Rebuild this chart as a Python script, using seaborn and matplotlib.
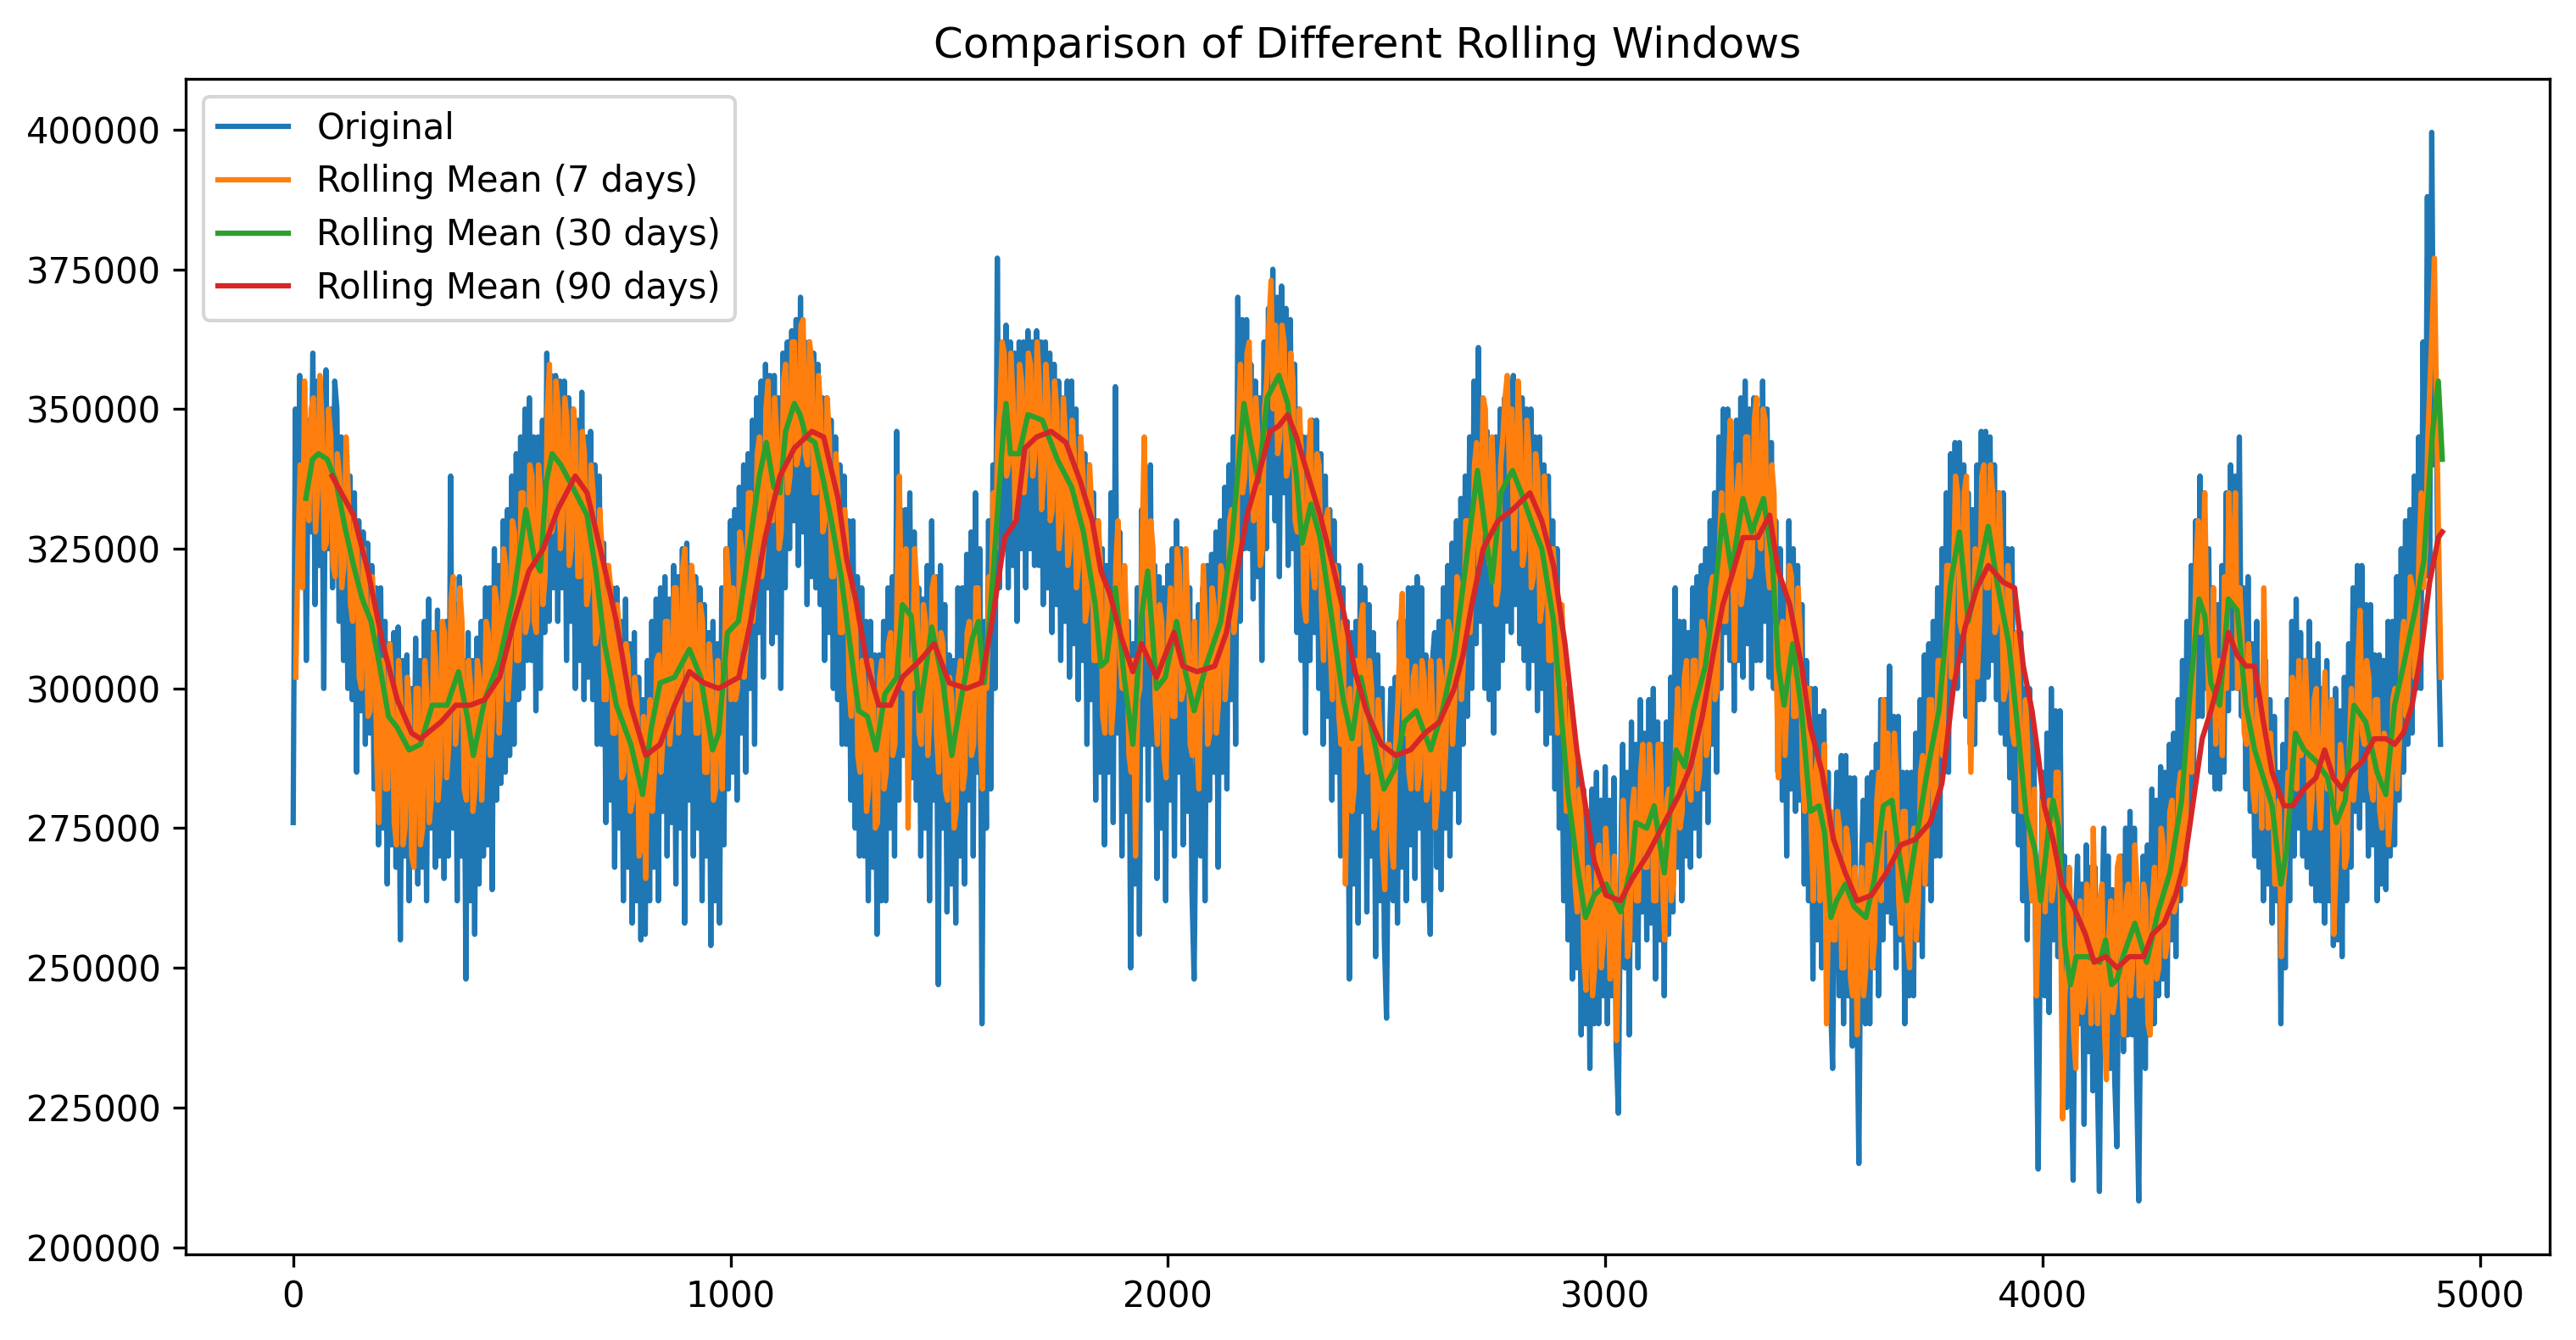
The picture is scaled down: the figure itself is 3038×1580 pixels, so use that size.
import matplotlib

matplotlib.use('Agg')
import matplotlib.pyplot as plt
import numpy as np
import seaborn as sns

# values in thousands
# original series, one reading every 5 days starting at day 0 (one row = 100 days)
original_k = [
    276, 350, 318, 356, 322, 352, 305, 348, 328, 360, 315, 355, 322, 350, 300, 357, 325, 350, 318, 355,
    350, 312, 345, 305, 340, 300, 338, 298, 335, 285, 330, 296, 328, 290, 326, 292, 322, 282, 318, 272,
    318, 275, 312, 265, 308, 272, 310, 268, 311, 255, 305, 270, 306, 262, 300, 270, 309, 265, 305, 268,
    312, 262, 316, 275, 310, 268, 314, 270, 308, 266, 312, 270, 338, 275, 315, 262, 320, 270, 305, 248,
    310, 262, 305, 256, 309, 265, 312, 270, 318, 272, 318, 264, 325, 280, 322, 283, 330, 285, 332, 288,
    338, 290, 342, 298, 345, 300, 350, 305, 352, 305, 345, 296, 345, 300, 348, 310, 360, 312, 356, 318,
    356, 312, 355, 318, 355, 305, 352, 312, 350, 300, 348, 305, 353, 298, 345, 302, 346, 298, 340, 290,
    338, 290, 326, 276, 322, 280, 318, 268, 318, 275, 312, 262, 316, 268, 308, 258, 310, 262, 302, 255,
    298, 256, 305, 262, 312, 268, 316, 262, 318, 278, 320, 270, 316, 276, 322, 265, 320, 275, 325, 258,
    326, 280, 322, 270, 320, 275, 318, 262, 315, 270, 310, 254, 312, 262, 308, 258, 318, 272, 325, 282,
    330, 285, 332, 280, 336, 292, 340, 285, 342, 300, 348, 290, 352, 310, 355, 302, 358, 318, 356, 308,
    356, 310, 352, 300, 360, 318, 362, 325, 364, 330, 366, 322, 370, 328, 362, 315, 362, 320, 360, 318,
    358, 315, 352, 305, 352, 310, 348, 300, 345, 298, 340, 290, 338, 290, 330, 280, 330, 275, 320, 270,
    318, 270, 312, 262, 312, 268, 306, 256, 306, 262, 312, 262, 318, 275, 320, 270, 346, 280, 332, 288,
    332, 290, 335, 284, 328, 280, 318, 270, 316, 275, 322, 262, 330, 280, 320, 247, 322, 275, 315, 260,
    306, 265, 305, 258, 318, 270, 318, 265, 324, 280, 328, 270, 335, 285, 325, 240, 312, 275, 330, 282,
    340, 300, 377, 318, 360, 325, 365, 318, 362, 322, 360, 312, 362, 325, 362, 318, 364, 325, 362, 322,
    364, 322, 362, 315, 362, 318, 360, 310, 358, 315, 355, 305, 352, 312, 355, 302, 355, 308, 350, 298,
    345, 305, 342, 290, 340, 298, 335, 280, 330, 285, 325, 272, 322, 285, 335, 276, 354, 292, 328, 270,
    318, 278, 312, 250, 308, 265, 318, 256, 332, 290, 338, 280, 340, 290, 322, 266, 320, 275, 318, 262,
    322, 280, 325, 270, 330, 285, 325, 272, 320, 278, 318, 264, 248, 285, 315, 270, 318, 262, 322, 280,
    324, 285, 328, 268, 330, 285, 336, 282, 340, 298, 345, 290, 370, 312, 366, 325, 366, 325, 358, 316,
    355, 320, 352, 305, 362, 325, 368, 335, 375, 330, 370, 320, 372, 335, 368, 322, 366, 325, 358, 310,
    350, 305, 345, 292, 345, 305, 348, 310, 348, 300, 342, 290, 338, 295, 332, 280, 330, 285, 322, 270,
    318, 272, 312, 248, 310, 265, 312, 258, 322, 278, 318, 260, 315, 270, 310, 252, 306, 262, 300, 255,
    241, 285, 300, 262, 302, 258, 312, 268, 312, 262, 318, 272, 318, 266, 320, 275, 318, 262, 306, 268,
    256, 305, 310, 268, 312, 264, 318, 275, 322, 270, 326, 282, 330, 276, 334, 290, 338, 295, 345, 300,
    355, 308, 361, 312, 350, 300, 346, 298, 340, 292, 345, 300, 350, 305, 352, 312, 355, 310, 356, 315,
    352, 308, 352, 305, 350, 300, 350, 305, 345, 296, 345, 300, 340, 290, 338, 292, 330, 282, 325, 275,
    305, 262, 300, 255, 292, 248, 288, 250, 285, 238, 282, 240, 278, 232, 282, 240, 285, 240, 280, 245,
    286, 240, 280, 245, 284, 236, 224, 265, 290, 250, 285, 238, 294, 255, 290, 250, 298, 260, 292, 255,
    298, 258, 300, 248, 294, 255, 290, 245, 294, 256, 302, 260, 318, 268, 312, 262, 312, 270, 310, 268,
    318, 275, 320, 270, 322, 282, 325, 276, 330, 290, 335, 285, 345, 300, 350, 310, 350, 305, 342, 296,
    348, 305, 352, 302, 355, 308, 350, 300, 352, 305, 350, 305, 355, 312, 350, 302, 344, 300, 330, 285,
    325, 280, 318, 270, 330, 282, 325, 278, 322, 280, 315, 265, 305, 262, 300, 248, 300, 255, 295, 250,
    296, 255, 285, 245, 232, 270, 285, 245, 288, 240, 288, 245, 284, 236, 284, 248, 215, 265, 280, 240,
    284, 240, 285, 250, 290, 245, 298, 255, 298, 260, 304, 258, 295, 250, 295, 255, 285, 240, 285, 245,
    285, 245, 292, 255, 298, 252, 306, 265, 308, 262, 312, 270, 318, 270, 325, 285, 335, 285, 342, 300,
    344, 300, 344, 305, 340, 295, 335, 290, 332, 290, 340, 298, 346, 298, 346, 302, 345, 305, 340, 298,
    335, 292, 335, 290, 325, 284, 325, 278, 310, 272, 310, 262, 300, 255, 300, 262, 292, 246, 214, 258,
    285, 245, 292, 242, 300, 255, 296, 252, 296, 255, 270, 225, 265, 235, 212, 258, 270, 240, 265, 222,
    272, 235, 268, 228, 268, 232, 210, 255, 275, 238, 270, 232, 264, 230, 218, 262, 270, 235, 275, 238,
    278, 238, 275, 230, 208.3, 250, 270, 232, 272, 238, 282, 240, 280, 245, 286, 248, 285, 245, 290, 255,
    292, 252, 298, 262, 305, 265, 312, 275, 322, 282, 330, 295, 338, 295, 335, 300, 325, 285, 318, 282,
    315, 282, 322, 285, 335, 296, 340, 300, 338, 300, 345, 295, 318, 282, 320, 278, 308, 270, 312, 268,
    298, 262, 305, 265, 298, 258, 295, 262, 285, 240, 290, 250, 298, 262, 312, 270, 316, 275, 310, 270,
    305, 268, 312, 265, 305, 262, 308, 262, 300, 258, 305, 262, 295, 254, 300, 255, 296, 252, 302, 262,
    308, 268, 318, 278, 322, 275, 322, 280, 315, 270, 315, 272, 306, 262, 306, 265, 305, 264, 312, 270,
    312, 272, 320, 280, 325, 285, 330, 290, 332, 292, 338, 300, 345, 300, 362, 320, 388, 320, 399.5, 340,
    355, 310, 290,
]

# 7-day rolling mean, one reading every 5 days starting at day 6
rolling7_k = [
    302, 325, 340, 318, 355, 335, 330, 350, 352, 328, 335, 356, 348, 325, 326, 350, 345, 322, 320, 342,
    338, 318, 322, 345, 335, 315, 312, 330, 325, 302, 300, 325, 318, 295, 296, 320, 312, 288, 276, 305,
    305, 282, 282, 308, 300, 276, 272, 305, 298, 272, 275, 302, 296, 270, 268, 300, 300, 272, 275, 305,
    298, 276, 280, 310, 305, 280, 285, 312, 310, 284, 290, 316, 320, 290, 296, 318, 312, 282, 280, 305,
    300, 278, 282, 305, 302, 280, 290, 312, 310, 288, 295, 318, 315, 292, 300, 325, 322, 298, 305, 330,
    328, 305, 305, 335, 335, 310, 312, 340, 338, 312, 310, 340, 335, 315, 320, 350, 358, 328, 330, 355,
    350, 325, 330, 352, 348, 322, 325, 350, 345, 320, 320, 346, 342, 315, 318, 340, 335, 308, 310, 332,
    325, 298, 298, 322, 318, 292, 292, 315, 310, 284, 285, 308, 305, 278, 280, 302, 298, 270, 272, 295,
    266, 290, 298, 278, 285, 305, 306, 285, 292, 312, 312, 290, 296, 318, 318, 292, 300, 322, 325, 298,
    298, 322, 318, 292, 292, 315, 312, 285, 285, 308, 302, 280, 282, 305, 298, 282, 305, 325, 318, 298,
    318, 298, 300, 328, 325, 302, 308, 335, 335, 312, 318, 342, 345, 320, 325, 350, 355, 332, 330, 352,
    345, 325, 328, 355, 358, 335, 338, 362, 362, 340, 342, 365, 366, 342, 340, 362, 358, 335, 335, 356,
    350, 328, 330, 352, 345, 320, 320, 342, 335, 310, 310, 332, 325, 300, 295, 318, 312, 288, 285, 305,
    300, 278, 282, 305, 298, 275, 276, 302, 305, 282, 285, 308, 310, 288, 290, 318, 338, 312, 300, 325,
    275, 305, 300, 325, 318, 292, 290, 315, 312, 288, 295, 318, 320, 292, 285, 310, 308, 282, 280, 302,
    298, 275, 278, 302, 305, 282, 285, 310, 312, 288, 290, 318, 318, 292, 282, 305, 300, 320, 315, 335,
    325, 345, 350, 362, 360, 338, 340, 360, 352, 330, 335, 358, 355, 335, 340, 360, 358, 338, 342, 362,
    355, 332, 338, 358, 352, 330, 332, 355, 350, 325, 330, 352, 345, 322, 325, 348, 342, 318, 322, 345,
    338, 312, 315, 340, 332, 305, 305, 330, 322, 295, 292, 318, 312, 292, 298, 322, 330, 305, 300, 322,
    310, 288, 285, 305, 270, 298, 300, 325, 345, 320, 305, 330, 325, 298, 290, 315, 312, 288, 284, 310,
    318, 295, 295, 325, 322, 298, 300, 325, 312, 290, 288, 312, 291, 282, 305, 322, 312, 290, 292, 318,
    315, 292, 298, 322, 320, 298, 305, 330, 332, 310, 315, 345, 358, 335, 338, 360, 362, 338, 330, 352,
    345, 322, 325, 350, 355, 365, 373, 350, 365, 342, 345, 365, 362, 338, 340, 360, 355, 330, 328, 350,
    340, 315, 312, 340, 348, 322, 318, 342, 340, 315, 305, 330, 332, 308, 298, 322, 320, 295, 290, 312,
    265, 290, 300, 278, 282, 305, 290, 312, 315, 290, 285, 305, 300, 275, 278, 298, 292, 270, 264, 290,
    290, 272, 268, 290, 298, 310, 317, 292, 305, 285, 282, 302, 304, 282, 285, 305, 302, 280, 282, 305,
    295, 275, 280, 305, 302, 282, 290, 312, 310, 290, 298, 320, 318, 298, 305, 330, 330, 310, 318, 340,
    344, 322, 330, 352, 350, 325, 322, 345, 335, 315, 318, 340, 345, 352, 356, 338, 350, 325, 335, 355,
    345, 322, 325, 348, 342, 318, 320, 342, 338, 312, 315, 338, 330, 305, 305, 325, 318, 292, 295, 315,
    300, 278, 280, 298, 290, 265, 260, 282, 275, 252, 246, 268, 262, 245, 250, 270, 272, 250, 255, 275,
    268, 248, 250, 270, 237, 255, 262, 280, 270, 252, 255, 278, 282, 262, 262, 285, 290, 268, 268, 290,
    285, 262, 262, 290, 290, 265, 255, 280, 282, 262, 265, 290, 300, 275, 278, 302, 305, 282, 280, 305,
    305, 282, 285, 312, 310, 288, 290, 318, 320, 298, 300, 325, 335, 312, 312, 338, 348, 325, 305, 335,
    340, 315, 318, 345, 345, 320, 322, 348, 352, 328, 325, 350, 348, 322, 318, 340, 335, 305, 284, 310,
    312, 288, 298, 322, 320, 295, 295, 318, 310, 285, 278, 300, 300, 275, 262, 285, 288, 262, 265, 290,
    240, 262, 278, 255, 255, 278, 275, 250, 250, 275, 272, 248, 245, 268, 238, 258, 268, 245, 250, 272,
    272, 250, 255, 280, 285, 262, 298, 275, 292, 268, 272, 292, 285, 262, 256, 278, 278, 255, 250, 272,
    275, 255, 262, 285, 288, 265, 275, 298, 298, 278, 282, 305, 305, 288, 300, 322, 322, 302, 318, 338,
    335, 312, 310, 335, 338, 312, 285, 305, 325, 302, 312, 338, 340, 318, 318, 340, 335, 310, 312, 335,
    320, 298, 300, 322, 315, 292, 290, 310, 300, 278, 278, 298, 290, 268, 262, 282, 245, 262, 262, 280,
    260, 275, 280, 262, 265, 285, 285, 262, 223, 245, 250, 268, 255, 238, 232, 255, 262, 242, 245, 265,
    258, 240, 275, 255, 240, 262, 265, 240, 230, 255, 262, 242, 245, 268, 270, 248, 238, 262, 265, 245,
    250, 272, 265, 245, 245, 265, 262, 240, 238, 262, 268, 248, 250, 275, 272, 252, 255, 278, 280, 260,
    262, 282, 285, 265, 265, 292, 295, 285, 305, 322, 330, 310, 318, 335, 310, 295, 300, 318, 290, 305,
    305, 288, 320, 300, 335, 318, 315, 335, 300, 318, 310, 292, 290, 308, 300, 282, 278, 298, 295, 275,
    318, 295, 275, 292, 285, 265, 265, 280, 252, 265, 270, 285, 285, 302, 300, 282, 305, 288, 290, 305,
    295, 275, 280, 298, 300, 282, 275, 292, 303, 282, 282, 298, 256, 268, 275, 290, 285, 268, 270, 288,
    300, 280, 285, 305, 314, 292, 290, 305, 302, 282, 280, 298, 298, 278, 275, 292, 290, 272, 280, 298,
    300, 282, 290, 308, 312, 295, 300, 320, 318, 302, 308, 325, 335, 318, 325, 345, 355, 365, 377, 350,
    325, 302,
]

# 30-day rolling mean
rolling30_day = [
    29, 44, 58, 78, 98, 118, 138, 158, 178, 198,
    218, 238, 265, 291, 318, 352, 378, 398, 412, 438,
    472, 505, 532, 552, 565, 579, 592, 612, 639, 672,
    692, 712, 739, 772, 799, 819, 839, 872, 906, 932,
    959, 973, 993, 1018, 1046, 1066, 1082, 1099, 1113, 1126,
    1146, 1159, 1173, 1193, 1213, 1233, 1253, 1273, 1293, 1313,
    1333, 1353, 1380, 1393, 1413, 1433, 1460, 1486, 1506, 1527,
    1553, 1567, 1580, 1600, 1620, 1630, 1640, 1660, 1680, 1713,
    1747, 1780, 1807, 1834, 1847, 1860, 1880, 1900, 1920, 1940,
    1954, 1974, 1994, 2020, 2040, 2060, 2087, 2121, 2147, 2174,
    2187, 2207, 2227, 2254, 2274, 2294, 2307, 2327, 2348, 2374,
    2401, 2421, 2441, 2468, 2494, 2521, 2541, 2568, 2601, 2628,
    2655, 2681, 2708, 2728, 2741, 2761, 2788, 2808, 2835, 2855,
    2882, 2902, 2915, 2935, 2955, 2975, 3002, 3035, 3062, 3070,
    3095, 3112, 3135, 3162, 3182, 3202, 3229, 3249, 3269, 3289,
    3315, 3335, 3362, 3382, 3396, 3409, 3429, 3449, 3469, 3489,
    3502, 3516, 3529, 3549, 3569, 3596, 3616, 3636, 3656, 3669,
    3689, 3709, 3736, 3763, 3790, 3810, 3830, 3850, 3876, 3896,
    3923, 3943, 3963, 3983, 3996, 4014, 4024, 4037, 4051, 4064,
    4077, 4104, 4131, 4144, 4158, 4171, 4184, 4211, 4238, 4264,
    4291, 4318, 4338, 4358, 4371, 4385, 4405, 4425, 4445, 4465,
    4485, 4505, 4525, 4545, 4558, 4578, 4598, 4625, 4652, 4672,
    4692, 4712, 4739, 4765, 4785, 4805, 4825, 4852, 4872, 4892,
    4905, 4914,
]
rolling30_k = [
    334, 341, 342, 341, 337, 329, 322, 316, 312, 304,
    295, 293, 289, 290, 297, 297, 303, 295, 288, 298,
    305, 317, 332, 323, 321, 337, 342, 340, 336, 331,
    321, 308, 297, 290, 281, 293, 301, 302, 307, 302,
    289, 292, 310, 312, 327, 338, 344, 336, 335, 346,
    351, 349, 345, 344, 337, 329, 320, 308, 296, 295,
    289, 299, 302, 315, 313, 296, 311, 301, 288, 298,
    309, 312, 301, 320, 342, 351, 342, 342, 349, 348,
    341, 336, 328, 315, 304, 305, 318, 302, 290, 313,
    321, 300, 302, 312, 303, 296, 304, 312, 327, 351,
    345, 337, 352, 356, 351, 338, 326, 333, 327, 313,
    298, 291, 302, 292, 282, 286, 294, 296, 289, 296,
    306, 322, 339, 327, 319, 335, 339, 335, 329, 325,
    312, 293, 281, 269, 259, 263, 265, 260, 269, 276,
    275, 279, 267, 289, 286, 296, 304, 316, 331, 321,
    334, 328, 334, 323, 304, 297, 308, 296, 278, 279,
    274, 259, 262, 265, 261, 259, 266, 279, 280, 272,
    262, 272, 285, 296, 319, 328, 312, 319, 329, 319,
    308, 293, 277, 271, 262, 275, 280, 275, 254, 247,
    252, 252, 251, 255, 247, 248, 252, 258, 251, 260,
    267, 280, 300, 316, 313, 301, 297, 316, 314, 297,
    289, 284, 279, 265, 271, 292, 289, 287, 284, 276,
    280, 297, 294, 285, 281, 297, 304, 314, 323, 346,
    355, 341,
]

# 90-day rolling mean
rolling90_day = [
    89, 138, 171, 205, 238, 271, 291, 338, 372, 405,
    438, 472, 505, 539, 572, 605, 645, 672, 705, 739,
    772, 806, 839, 872, 906, 939, 973, 1019, 1046, 1079,
    1113, 1146, 1186, 1213, 1246, 1266, 1286, 1313, 1339, 1366,
    1393, 1433, 1466, 1500, 1540, 1573, 1600, 1627, 1653, 1673,
    1700, 1733, 1767, 1800, 1827, 1847, 1867, 1894, 1920, 1940,
    1974, 2014, 2034, 2067, 2107, 2134, 2161, 2181, 2207, 2234,
    2254, 2274, 2294, 2321, 2348, 2374, 2401, 2428, 2454, 2488,
    2521, 2555, 2588, 2621, 2655, 2675, 2695, 2721, 2755, 2788,
    2828, 2855, 2882, 2908, 2935, 2955, 2975, 3002, 3035, 3062,
    3095, 3129, 3169, 3195, 3222, 3249, 3269, 3289, 3315, 3349,
    3376, 3396, 3422, 3449, 3469, 3496, 3522, 3549, 3576, 3609,
    3643, 3676, 3709, 3743, 3770, 3796, 3823, 3850, 3876, 3910,
    3936, 3956, 3976, 3990, 4004, 4024, 4044, 4071, 4098, 4118,
    4144, 4171, 4198, 4231, 4251, 4278, 4304, 4325, 4345, 4365,
    4385, 4405, 4425, 4445, 4465, 4485, 4505, 4525, 4552, 4572,
    4598, 4625, 4645, 4665, 4685, 4705, 4732, 4758, 4785, 4805,
    4825, 4845, 4865, 4885, 4905, 4914,
]
rolling90_k = [
    338, 331, 321, 308, 298, 292, 291, 294, 297, 297,
    298, 302, 312, 321, 325, 332, 338, 335, 324, 312,
    297, 288, 290, 297, 303, 301, 300, 302, 312, 327,
    338, 343, 346, 345, 334, 323, 316, 304, 297, 297,
    302, 305, 308, 301, 300, 301, 313, 327, 330, 343,
    345, 346, 344, 337, 330, 321, 317, 309, 303, 308,
    302, 310, 304, 303, 304, 310, 322, 331, 338, 346,
    347, 349, 345, 338, 331, 323, 314, 303, 296, 290,
    288, 289, 292, 294, 300, 306, 315, 325, 330, 332,
    335, 330, 322, 308, 289, 279, 269, 263, 262, 266,
    270, 275, 281, 286, 295, 307, 315, 320, 327, 327,
    331, 321, 315, 304, 293, 285, 273, 267, 262, 263,
    267, 272, 273, 276, 283, 300, 311, 318, 322, 319,
    318, 304, 296, 288, 279, 273, 265, 261, 256, 251,
    252, 250, 252, 252, 256, 258, 263, 269, 280, 291,
    296, 302, 310, 306, 304, 304, 294, 285, 279, 279,
    282, 284, 289, 284, 282, 285, 287, 291, 291, 290,
    292, 297, 306, 319, 327, 328,
]

ORIGINAL_DAYS = np.arange(len(original_k)) * 5
ROLLING7_DAYS = np.arange(len(rolling7_k)) * 5 + 6


def main():
    fig = plt.figure(figsize=(3038 / 300, 1580 / 300), dpi=300)
    ax = fig.add_axes([0.0721, 0.0639, 0.9177, 0.8772])

    sns.lineplot(x=ORIGINAL_DAYS, y=np.array(original_k) * 1000, ax=ax,
                 color='tab:blue', label='Original')
    sns.lineplot(x=ROLLING7_DAYS, y=np.array(rolling7_k) * 1000, ax=ax,
                 color='tab:orange', label='Rolling Mean (7 days)')
    sns.lineplot(x=rolling30_day, y=np.array(rolling30_k) * 1000, ax=ax,
                 color='tab:green', label='Rolling Mean (30 days)')
    sns.lineplot(x=rolling90_day, y=np.array(rolling90_k) * 1000, ax=ax,
                 color='tab:red', label='Rolling Mean (90 days)')

    ax.set_title('Comparison of Different Rolling Windows')
    ax.legend(loc='upper left')
    fig.savefig('out.png', dpi=300)
    plt.close(fig)


if __name__ == '__main__':
    main()
